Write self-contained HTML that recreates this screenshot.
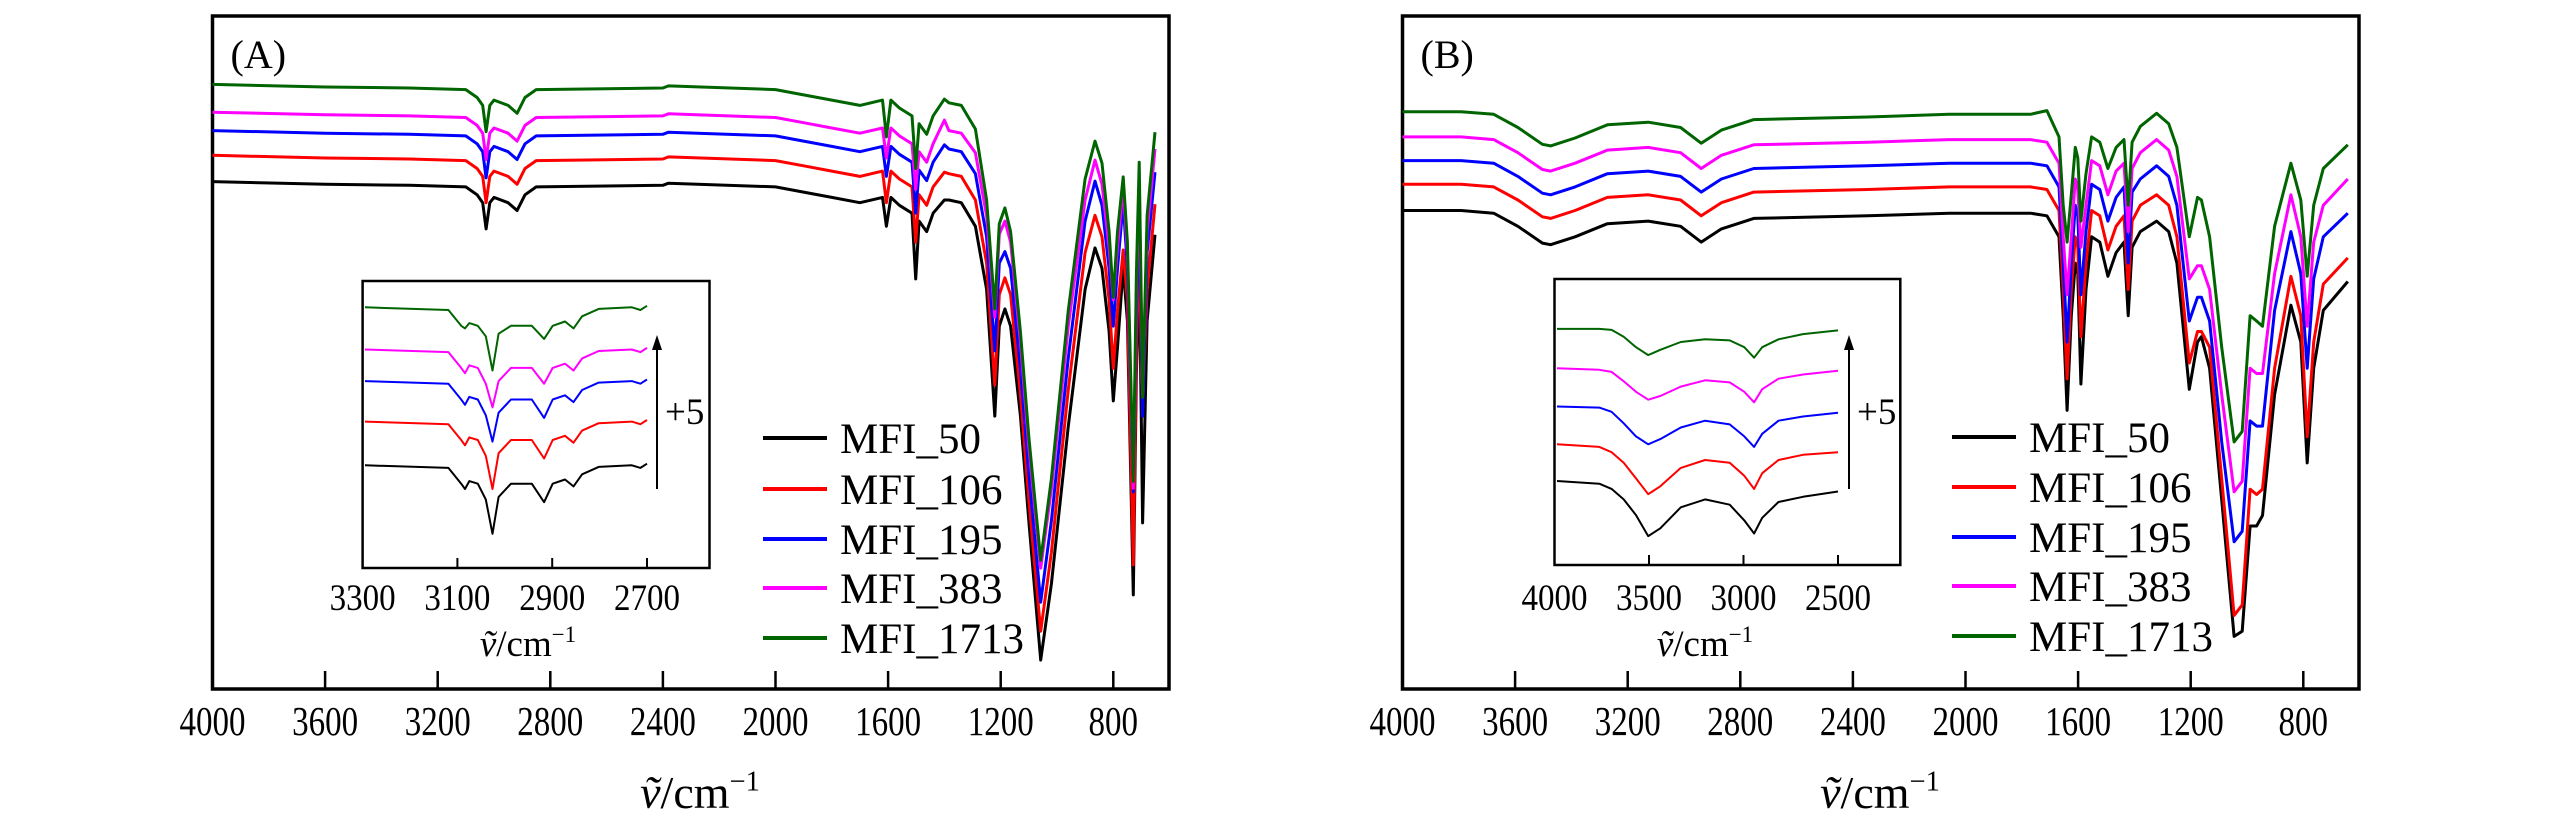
<!DOCTYPE html>
<html><head><meta charset="utf-8"><style>
html,body{margin:0;padding:0;background:#fff;}
svg{display:block;font-family:"Liberation Serif",serif;}
</style></head><body>
<svg id="c" width="2567" height="826" viewBox="0 0 2567 826" xmlns="http://www.w3.org/2000/svg">
<g id="pA"></g>
<g id="pB"></g>
</svg>
<script>
const seriesNames = ["MFI_50","MFI_106","MFI_195","MFI_383","MFI_1713"];
const seriesColors = ["#000000","#ff0000","#0000ff","#ff00ff","#006400"];
const mainTicks = [4000,3600,3200,2800,2400,2000,1600,1200,800];
const insetTicksA = [3300,3100,2900,2700];
const insetTicksB = [4000,3500,3000,2500];

const wavA = [4000,3600,3300,3100,3060,3040,3028,3015,3000,2950,2918,2890,2850,2400,2380,2000,1900,1800,1700,1620,1606,1590,1560,1515,1502,1490,1463,1440,1400,1384,1340,1290,1250,1221,1205,1185,1165,1130,1100,1058,1020,960,900,865,840,815,800,785,765,750,729,718,708,700,696,680,652];
const a50 = [965,960,958,955,940,925,875,925,935,925,910,940,955,958,962,955,945,935,925,935,880,935,920,905,780,890,870,905,930,930,925,880,760,519,690,723,690,520,320,55,200,500,760,839,800,680,548,650,802,700,179,600,802,500,316,700,864];
const a106 = [1015,1010,1008,1005,990,975,925,975,985,975,960,990,1005,1008,1012,1005,995,985,975,985,925,985,970,955,850,940,920,955,983,980,975,930,810,578,750,782,750,560,360,110,260,570,830,901,860,740,610,720,835,740,236,650,861,600,534,760,922];
const a195 = [1062,1057,1055,1052,1037,1022,972,1022,1032,1022,1007,1037,1052,1055,1059,1052,1042,1032,1022,1032,975,1032,1017,1002,905,987,967,1002,1035,1027,1022,980,860,643,810,832,800,610,410,165,320,630,890,966,920,800,690,800,926,800,375,720,926,650,519,830,983];
const a383 = [1097,1092,1090,1087,1072,1057,1007,1057,1067,1057,1042,1072,1087,1090,1094,1087,1077,1067,1057,1067,1010,1067,1052,1037,950,1022,1002,1037,1082,1062,1057,1020,900,707,865,890,850,660,460,230,380,690,930,1006,960,840,740,840,955,830,382,760,962,700,560,870,1027];
const a1713 = [1150,1145,1143,1140,1125,1110,1060,1110,1120,1110,1095,1125,1140,1143,1147,1140,1130,1120,1110,1120,1050,1120,1105,1090,990,1075,1055,1090,1122,1115,1110,1065,930,723,885,915,870,680,480,245,400,720,970,1042,1000,870,745,870,974,850,395,790,1002,720,555,900,1059];

const wavB = [4000,3792,3676,3590,3503,3474,3387,3272,3127,3012,2939,2867,2752,2347,2058,1769,1711,1668,1653,1639,1624,1610,1601,1590,1572,1552,1523,1494,1465,1437,1422,1408,1379,1321,1278,1249,1205,1176,1162,1133,1090,1046,1017,989,966,945,902,844,809,786,763,729,642];
const b50 = [910,910,905,880,848,845,860,885,890,880,850,875,895,900,905,905,900,860,710,530,710,810,790,580,760,860,850,785,830,850,710,840,870,890,870,810,570,660,670,610,360,100,110,310,310,330,560,730,660,430,610,720,775];
const b106 = [960,960,955,930,898,895,910,935,940,930,900,925,945,950,955,955,950,910,760,590,760,860,840,670,810,910,900,835,880,900,760,890,920,940,920,860,620,680,680,650,400,140,160,380,370,380,610,785,710,480,660,770,820];
const b195 = [1005,1005,1000,975,943,940,955,980,985,975,945,970,990,995,1000,1000,995,955,810,660,810,920,900,750,870,960,950,890,935,955,810,945,970,995,975,920,700,745,745,700,470,280,300,510,500,500,720,870,790,610,780,860,905];
const b383 = [1050,1050,1045,1020,988,985,1000,1025,1030,1020,990,1015,1035,1040,1045,1045,1040,1000,860,750,860,970,950,840,920,1005,995,940,985,1000,870,990,1020,1045,1025,975,780,805,805,760,560,375,395,610,600,600,790,940,860,690,850,920,970];
const b1713 = [1098,1098,1093,1068,1036,1033,1048,1073,1078,1068,1038,1063,1083,1088,1093,1093,1100,1050,920,850,940,1030,1010,890,980,1050,1040,990,1030,1045,920,1040,1070,1095,1075,1030,860,935,930,860,650,470,490,710,700,690,880,1000,930,785,920,990,1035];

const wavIA = [3295,3119,3092,3084,3075,3057,3040,3026,3013,2987,2960,2943,2917,2899,2873,2855,2837,2802,2732,2714,2700];
const ia50 = [195,190,160,150,165,160,130,65,135,160,160,160,125,160,168,155,178,192,195,190,198];
const ia106 = [278,273,243,233,248,243,213,150,218,243,243,243,208,243,251,238,261,275,278,273,281];
const ia195 = [355,350,320,310,325,320,290,240,295,320,320,320,285,320,328,315,338,352,355,350,358];
const ia383 = [415,410,380,370,385,380,350,305,355,380,380,380,350,380,388,375,398,412,415,410,418];
const ia1713 = [495,490,460,455,465,460,440,375,445,460,460,460,435,460,468,455,478,492,495,490,498];

const wavIB = [3987,3763,3698,3634,3569,3504,3440,3332,3203,3073,2996,2944,2901,2815,2685,2500];
const ib50 = [160,155,145,125,95,55,70,110,125,115,85,60,90,120,130,140];
const ib106 = [230,225,215,195,165,135,150,185,200,195,170,145,175,200,210,215];
const ib195 = [302,300,292,270,245,230,240,262,275,268,245,225,250,275,283,290];
const ib383 = [375,372,368,350,330,315,322,340,352,348,330,310,335,355,363,370];
const ib1713 = [450,450,448,435,415,400,410,425,430,428,415,395,415,430,440,447];

const NS="http://www.w3.org/2000/svg";
function mk(tag,attrs,parent){const e=document.createElementNS(NS,tag);for(const k in attrs)e.setAttribute(k,attrs[k]);parent.appendChild(e);return e;}
function lin(d0,d1,r0,r1){return v=>r0+(v-d0)*(r1-r0)/(d1-d0);}

function drawSeries(g,wav,sets,xs,ys,sw,prefix){
  sets.forEach((vals,i)=>{
    const pts=wav.map((w,j)=>xs(w).toFixed(1)+","+ys(vals[j]).toFixed(1)).join(" ");
    const p=mk("polyline",{points:pts,fill:"none",stroke:seriesColors[i],"stroke-width":sw,"stroke-linejoin":"round"},g);
    
    
  });
}

function tildeLabel(g,x,y,size,name){
  const t=mk("text",{x:x,y:y,"font-size":size,"text-anchor":"middle"},g);
  t.innerHTML='<tspan font-style="italic">ṽ</tspan>/cm<tspan font-size="'+(size*0.62)+'" dy="'+(-size*0.38)+'">−1</tspan>';
  
  
}

function panel(g,cfg){
  const L=cfg.left,R=cfg.left+956.5,T=16,B=689;
  const xs=lin(4000,4000-(R-L)/0.2815,L,R);
  const ys=lin(0,1280,B,T);
  const frame=mk("rect",{x:L,y:T,width:R-L,height:B-T,fill:"none",stroke:"#000","stroke-width":3.5},g);
  
  
  mainTicks.forEach(t=>{
    const x=xs(t);
    if(t!==4000){const tk=mk("line",{x1:x,y1:B,x2:x,y2:B-18,stroke:"#000","stroke-width":2.5},g);
      
      }
    const s=String(t);
    const lb=mk("text",{x:x,y:735,"font-size":41,"text-anchor":"middle",textLength:s.length*16.5,lengthAdjust:"spacingAndGlyphs"},g);
    lb.textContent=s;
    
    
  });
  tildeLabel(g,cfg.titleX,808,46,'x-axis-title');
  const pl=mk("text",{x:L+18,y:68,"font-size":40},g);
  pl.textContent=cfg.tag;
  
  
  drawSeries(g,cfg.wav,cfg.sets,xs,ys,3,'series');
  const iL=cfg.iL,iR=cfg.iR,iT=cfg.iT,iB=cfg.iB;
  const ixs=lin(cfg.iTicks[0],cfg.iTicks[cfg.iTicks.length-1],iL,cfg.iLastX);
  const iys=lin(0,545,iB,iT);
  const ig=mk("g",{},g);
  
  
  const ib=mk("rect",{x:iL,y:iT,width:iR-iL,height:iB-iT,fill:"#fff",stroke:"#000","stroke-width":2.5},ig);
  
  
  cfg.iTicks.forEach((t,k)=>{
    const x=ixs(t);
    if(k>0){const tk=mk("line",{x1:x,y1:iB,x2:x,y2:iB-10,stroke:"#000","stroke-width":2},ig);
      
      }
    const lb=mk("text",{x:x,y:610,"font-size":37,"text-anchor":"middle",textLength:66,lengthAdjust:"spacingAndGlyphs"},ig);
    lb.textContent=String(t);
    
    
  });
  tildeLabel(ig,cfg.iTitleX,656,37,'inset-x-axis-title');
  drawSeries(ig,cfg.iwav,cfg.isets,ixs,iys,2,'inset-series');
  const ar=mk("line",{x1:cfg.arX,y1:489,x2:cfg.arX,y2:345,stroke:"#000","stroke-width":2},ig);
  
  
  const ah=mk("polygon",{points:(cfg.arX-5)+",350 "+cfg.arX+",335 "+(cfg.arX+5)+",350",fill:"#000"},ig);
  
  
  const p5=mk("text",{x:cfg.arX+8,y:424,"font-size":37},ig);
  p5.textContent="+5";
  
  
  const lg=mk("g",{},g);
  
  
  cfg.legY.forEach((y,i)=>{
    const e=mk("g",{},lg);
    
    
    mk("line",{x1:cfg.legX,y1:y,x2:cfg.legX+64,y2:y,stroke:seriesColors[i],"stroke-width":4},e);
    const t=mk("text",{x:cfg.legX+77,y:y+15,"font-size":43},e);
    t.textContent=seriesNames[i];
  });
}

panel(document.getElementById("pA"),{left:212.5,tag:"(A)",titleX:700,wav:wavA,sets:[a50,a106,a195,a383,a1713],
  iL:362.6,iR:709.5,iT:281,iB:568,iTicks:insetTicksA,iLastX:647,iTitleX:528,iwav:wavIA,isets:[ia50,ia106,ia195,ia383,ia1713],
  arX:657,legX:763,legY:[438,489,539,588,638]});
panel(document.getElementById("pB"),{left:1402.5,tag:"(B)",titleX:1880,wav:wavB,sets:[b50,b106,b195,b383,b1713],
  iL:1554.5,iR:1900.3,iT:279,iB:565,iTicks:insetTicksB,iLastX:1838,iTitleX:1705,iwav:wavIB,isets:[ib50,ib106,ib195,ib383,ib1713],
  arX:1849,legX:1952,legY:[437,487,537,586,636]});
</script>
</body></html>
